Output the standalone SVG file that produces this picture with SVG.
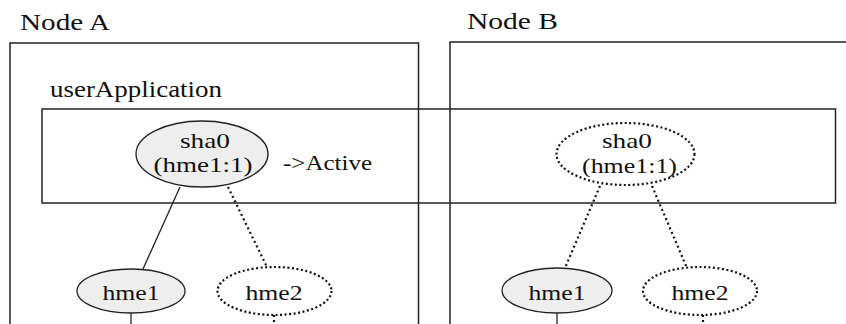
<svg xmlns="http://www.w3.org/2000/svg" width="846" height="324" viewBox="0 0 846 324">
<style>
.box{fill:none;stroke:#222;stroke-width:1.5}
.t{font-family:"Liberation Serif","Times New Roman",serif;fill:#111}
.big{font-size:23px}
.lbl{font-size:21px}
.act{fill:#eeeeee;stroke:#222;stroke-width:1.3}
.sb{fill:#fff;stroke:#111;stroke-width:2.2;stroke-dasharray:2 2.5}
.ln{stroke:#222;stroke-width:1.3;fill:none}
.dl{stroke:#111;stroke-width:2.2;stroke-dasharray:2 3;fill:none}
</style>
<rect width="846" height="324" fill="#fff"/>
<g id="nodeA">
<rect class="box" x="10" y="43" width="408.5" height="300"/>
<text class="t big" x="20" y="30" textLength="90" lengthAdjust="spacingAndGlyphs">Node A</text>
</g>
<g id="nodeB">
<rect class="box" x="450" y="42" width="420" height="300"/>
<text class="t big" x="467" y="29" textLength="91" lengthAdjust="spacingAndGlyphs">Node B</text>
</g>
<g id="userApplication">
<rect class="box" x="42" y="109" width="793.5" height="94"/>
<text class="t big" x="50" y="97" textLength="172" lengthAdjust="spacingAndGlyphs">userApplication</text>
</g>
<g id="connectors">
<line class="ln" x1="180" y1="187" x2="143" y2="269"/>
<line class="dl" x1="228" y1="187" x2="267" y2="267"/>
<line class="dl" x1="600" y1="186" x2="565" y2="268"/>
<line class="dl" x1="652" y1="186" x2="687" y2="268"/>
<line class="ln" x1="131" y1="313" x2="131" y2="324"/>
<line class="dl" x1="274" y1="315" x2="274" y2="324"/>
<line class="ln" x1="557" y1="313" x2="557" y2="324"/>
<line class="dl" x1="703" y1="315" x2="703" y2="324"/>
</g>
<g id="shaA">
<ellipse class="act" cx="202" cy="154" rx="66" ry="33"/>
<text class="t lbl" x="205" y="148" text-anchor="middle" textLength="50" lengthAdjust="spacingAndGlyphs">sha0</text>
<text class="t lbl" x="203" y="172" text-anchor="middle" textLength="99" lengthAdjust="spacingAndGlyphs">(hme1:1)</text>
</g>
<g id="activeLabel">
<text class="t lbl" x="283" y="170" textLength="89" lengthAdjust="spacingAndGlyphs">-&gt;Active</text>
</g>
<g id="shaB">
<ellipse class="sb" cx="625.5" cy="154" rx="69" ry="31"/>
<text class="t lbl" x="627" y="148" text-anchor="middle" textLength="50" lengthAdjust="spacingAndGlyphs">sha0</text>
<text class="t lbl" x="629.5" y="173" text-anchor="middle" textLength="95" lengthAdjust="spacingAndGlyphs">(hme1:1)</text>
</g>
<g id="hme1A">
<ellipse class="act" cx="131" cy="291" rx="54" ry="22"/>
<text class="t lbl" x="131" y="300" text-anchor="middle" textLength="57" lengthAdjust="spacingAndGlyphs">hme1</text>
</g>
<g id="hme2A">
<ellipse class="sb" cx="274.5" cy="291" rx="57" ry="24"/>
<text class="t lbl" x="274" y="300" text-anchor="middle" textLength="57" lengthAdjust="spacingAndGlyphs">hme2</text>
</g>
<g id="hme1B">
<ellipse class="act" cx="557" cy="290.5" rx="55" ry="22.5"/>
<text class="t lbl" x="557" y="300" text-anchor="middle" textLength="57" lengthAdjust="spacingAndGlyphs">hme1</text>
</g>
<g id="hme2B">
<ellipse class="sb" cx="700" cy="291" rx="57" ry="24"/>
<text class="t lbl" x="700" y="300" text-anchor="middle" textLength="57" lengthAdjust="spacingAndGlyphs">hme2</text>
</g>
</svg>
